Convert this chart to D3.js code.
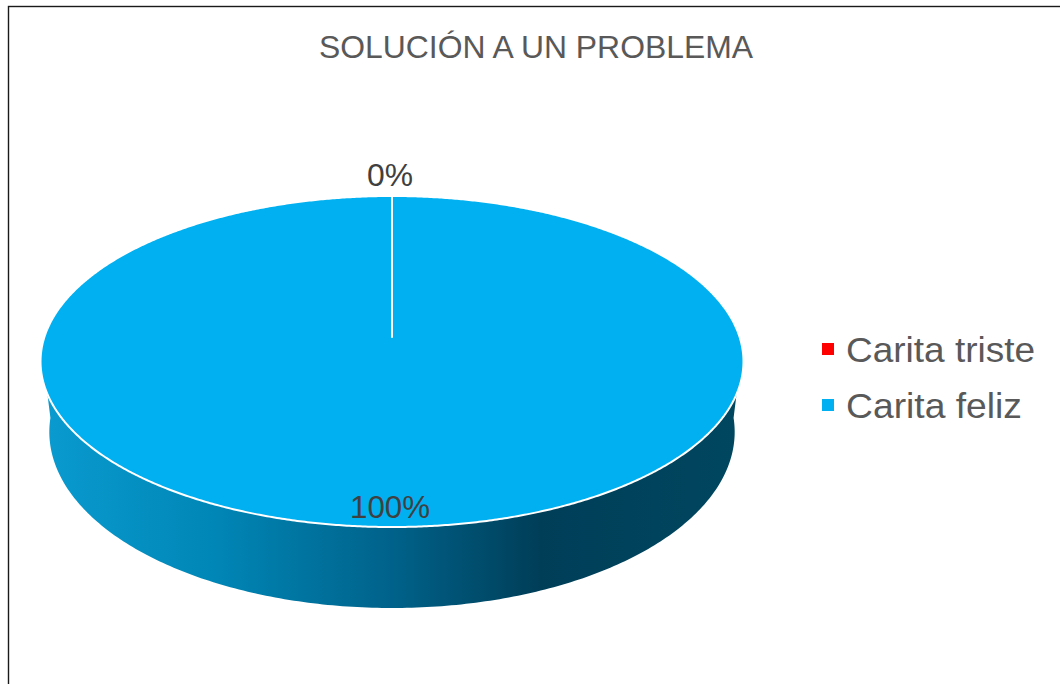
<!DOCTYPE html>
<html><head><meta charset="utf-8">
<script src="https://cdn.jsdelivr.net/npm/d3@7"></script>
<style>html,body{margin:0;padding:0;background:#fff;}svg{display:block;font-family:"Liberation Sans",Arial,sans-serif;}</style>
</head><body>
<svg id="chart" width="1060" height="684"></svg>
<script>
const title = "SOLUCIÓN A UN PROBLEMA";
const categories = ["Carita triste", "Carita feliz"];
const values = [0, 100];
const colors = ["#FF0000", "#00B0F0"];
const sideStops = [["#FF0000","#FF0000","#B00000","#800000","#900000"],
                   ["#0a9bd0","#0086b6","#00628a","#003e58","#00475f"]];
const labels = ["0%", "100%"];

const svg = d3.select("#chart");

// frame
svg.append("rect").attr("x", 8.5).attr("y", 6.5).attr("width", 1060).attr("height", 700)
  .attr("fill", "#fff").attr("stroke", "#1a1a1a").attr("stroke-width", 1.4);

// title
svg.append("text").attr("x", 536).attr("y", 58).attr("text-anchor", "middle")
  .attr("font-size", 31).attr("fill", "#595959")
  .attr("textLength", 434).attr("lengthAdjust", "spacingAndGlyphs").text(title);

// 3D perspective projection of a disk
const cx = 392, y0 = 337, p = 0.148, Ay = 161.9, Ax = 347.6, depth = 69, shrink = 0.975;
function proj(a, r, bottom) {
  const X = r * Math.sin(a), Y = -r * Math.cos(a);
  const w = 1 - p * Y;
  let x = Ax * X / w, y = y0 + Ay * Y / w;
  if (bottom) { x *= shrink; y += depth / w; }
  return [cx + x, y];
}

const pie = d3.pie().sort(null).value(d => d)(values);
const aVis0 = Math.acos(-p) - 0.08, aVis1 = 2 * Math.PI - Math.acos(-p) + 0.08;

const defs = svg.append("defs");
pie.forEach((s, i) => {
  const g = defs.append("linearGradient").attr("id", "side" + i)
    .attr("gradientUnits", "userSpaceOnUse")
    .attr("x1", cx - 352).attr("x2", cx + 352).attr("y1", 0).attr("y2", 0);
  const offs = [0, 0.25, 0.5, 0.71, 1];
  sideStops[i].forEach((c, k) => g.append("stop").attr("offset", offs[k]).attr("stop-color", c));
});

const line = d3.line();
const N = 240;
// sides
pie.forEach((s, i) => {
  const a0 = Math.max(s.startAngle, aVis0), a1 = Math.min(s.endAngle, aVis1);
  if (a1 <= a0) return;
  const pts = [];
  for (let k = 0; k <= N; k++) pts.push(proj(a0 + (a1 - a0) * k / N, 1, false));
  for (let k = N; k >= 0; k--) pts.push(proj(a0 + (a1 - a0) * k / N, 1, true));
  svg.append("path").attr("d", line(pts) + "Z").attr("fill", `url(#side${i})`);
});

// top faces
pie.forEach((s, i) => {
  const pts = [proj(0, 0, false)];
  const n = Math.max(2, Math.round(N * 2 * (s.endAngle - s.startAngle) / Math.PI));
  for (let k = 0; k <= n; k++) pts.push(proj(s.startAngle + (s.endAngle - s.startAngle) * k / n, 1, false));
  svg.append("path").attr("d", line(pts) + "Z").attr("fill", colors[i])
    .attr("stroke", "#fff").attr("stroke-width", 2).attr("stroke-linejoin", "round");
});

// data labels
pie.forEach((s, i) => {
  const mid = (s.startAngle + s.endAngle) / 2;
  const outside = s.value === 0;
  const [lx, ly] = proj(mid, outside ? 1.07 : 0.93, false);
  svg.append("text").attr("x", lx - 2).attr("y", ly + (outside ? -1 : 6))
    .attr("text-anchor", "middle").attr("font-size", 31).attr("fill", "#404040")
    .attr("textLength", labels[i].length === 2 ? 46 : 80).attr("lengthAdjust", "spacingAndGlyphs")
    .text(labels[i]);
});

// legend
const leg = svg.append("g");
categories.forEach((c, i) => {
  const yb = 362 + i * 56;
  leg.append("rect").attr("x", 822).attr("y", yb - 19).attr("width", 12).attr("height", 12).attr("fill", colors[i]);
  leg.append("text").attr("x", 846).attr("y", yb).attr("font-size", 35).attr("fill", "#595959")
    .attr("textLength", c === "Carita triste" ? 189 : 176).attr("lengthAdjust", "spacingAndGlyphs").text(c);
});
</script>
</body></html>
